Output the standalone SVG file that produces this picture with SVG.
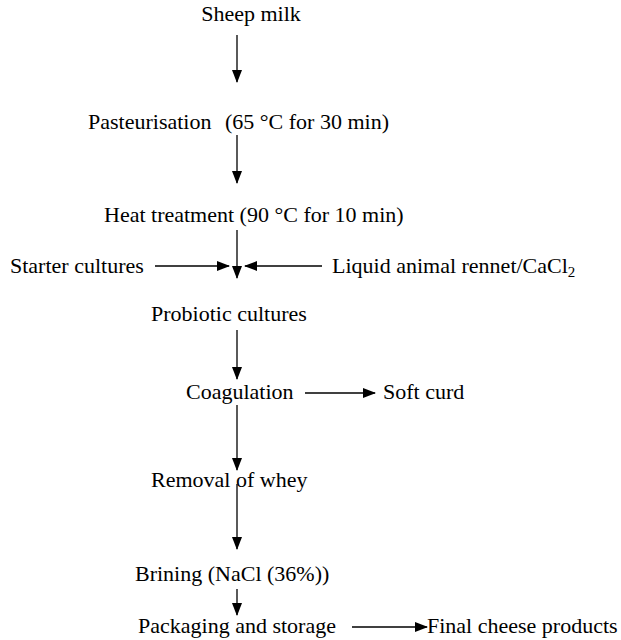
<svg xmlns="http://www.w3.org/2000/svg" width="621" height="640" viewBox="0 0 621 640">
<style>
text{font-family:"Liberation Serif","Times New Roman",serif;font-size:22px;fill:#000}
.c{stroke:#000;stroke-width:1.3;fill:none}
</style>
<defs>
<marker id="ah" markerWidth="13" markerHeight="10" refX="12" refY="5" orient="auto" markerUnits="userSpaceOnUse" viewBox="0 0 13 10">
<path d="M0,0 L13,5 L0,10 z" fill="#000"/>
</marker>
</defs>
<rect width="621" height="640" fill="#fff"/>
<g id="connectors">
<line class="c" x1="237" y1="35" x2="237" y2="82" marker-end="url(#ah)"/>
<line class="c" x1="237" y1="135" x2="237" y2="183" marker-end="url(#ah)"/>
<line class="c" x1="237" y1="230" x2="237" y2="278" marker-end="url(#ah)"/>
<line class="c" x1="155" y1="266" x2="229" y2="266" marker-end="url(#ah)"/>
<line class="c" x1="322" y1="266" x2="245" y2="266" marker-end="url(#ah)"/>
<line class="c" x1="237" y1="330" x2="237" y2="379" marker-end="url(#ah)"/>
<line class="c" x1="305" y1="393" x2="375" y2="393" marker-end="url(#ah)"/>
<line class="c" x1="237" y1="405" x2="237" y2="470" marker-end="url(#ah)"/>
<line class="c" x1="237" y1="484" x2="237" y2="549" marker-end="url(#ah)"/>
<line class="c" x1="237" y1="589" x2="237" y2="615" marker-end="url(#ah)"/>
<line class="c" x1="352" y1="627" x2="427" y2="627" marker-end="url(#ah)"/>
</g>
<g id="n1"><text x="251" y="21" text-anchor="middle">Sheep milk</text></g>
<g id="n2"><text x="88" y="129">Pasteurisation <tspan x="225">(65 °C for 30 min)</tspan></text></g>
<g id="n3"><text x="104" y="222">Heat treatment (90 °C for 10 min)</text></g>
<g id="n4"><text x="10" y="273">Starter cultures</text></g>
<g id="n5"><text x="332" y="273">Liquid animal rennet/CaCl<tspan font-size="15" dy="4">2</tspan></text></g>
<g id="n6"><text x="151" y="321">Probiotic cultures</text></g>
<g id="n7"><text x="186" y="399">Coagulation</text></g>
<g id="n8"><text x="383" y="399">Soft curd</text></g>
<g id="n9"><text x="151" y="487">Removal of whey</text></g>
<g id="n10"><text x="135" y="581">Brining (NaCl (36%))</text></g>
<g id="n11"><text x="138" y="633">Packaging and storage</text></g>
<g id="n12"><text x="427" y="633">Final cheese products</text></g>
</svg>
